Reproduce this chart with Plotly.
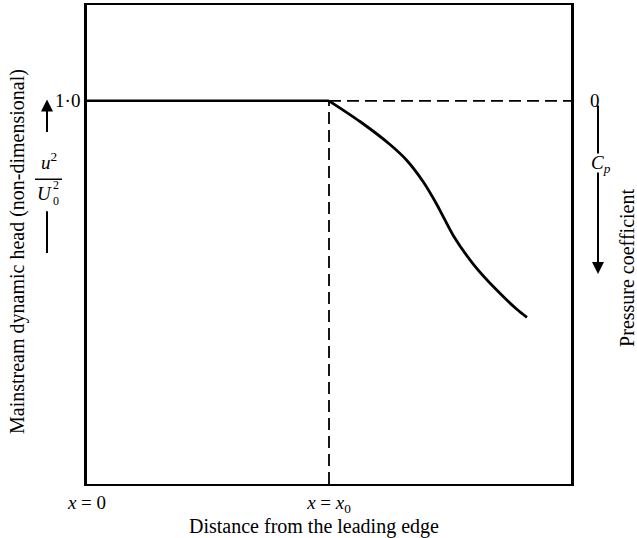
import plotly.graph_objects as go

# ---- data ----
x_curve = [1.0, 1.128, 1.252, 1.321, 1.39, 1.445, 1.466, 1.514, 1.596, 1.693, 1.776, 1.818]
y_curve = [1.0, 0.946, 0.886, 0.845, 0.788, 0.730, 0.705, 0.648, 0.574, 0.506, 0.456, 0.435]
x_flat = [0, 1]
y_flat = [1, 1]
x_dash_h = [1, 2]
y_dash_h = [1, 1]
x_dash_v = [1, 1]
y_dash_v = [0, 1]
x_tickvals = [0, 1]
x_ticktext = ["<i>x</i> = 0", "<i>x</i> = <i>x</i><sub>0</sub>"]
y_tickvals = [1.0]
y_ticktext = ["1·0"]
right_tick_text = "0"

FONT = "Liberation Serif, Times New Roman, serif"
W, H = 637, 538
L, R, T, B = 87, 571, 3, 484


def px(x):
    return (x - L) / (R - L)


def py(y):
    return (B - y) / (B - T)


fig = go.Figure()
fig.add_trace(go.Scatter(x=x_flat, y=y_flat, mode="lines",
                         line=dict(color="black", width=2.5), hoverinfo="skip"))
fig.add_trace(go.Scatter(x=x_dash_h, y=y_dash_h, mode="lines",
                         line=dict(color="black", width=1.8, dash="12px,6px"), hoverinfo="skip"))
fig.add_trace(go.Scatter(x=x_dash_v, y=y_dash_v, mode="lines",
                         line=dict(color="black", width=1.8, dash="12px,6px"), hoverinfo="skip"))
fig.add_trace(go.Scatter(x=x_curve, y=y_curve, mode="lines",
                         line=dict(color="black", width=2.8, shape="spline", smoothing=0.8),
                         hoverinfo="skip"))

fig.update_layout(
    width=W, height=H,
    margin=dict(l=L, r=W - R, t=T, b=H - B),
    paper_bgcolor="white", plot_bgcolor="white",
    showlegend=False,
    font=dict(family=FONT, color="black", size=19),
    xaxis=dict(range=[0, 2], showgrid=False, zeroline=False, showline=True, mirror=True,
               linecolor="black", linewidth=2, ticks="", tickvals=x_tickvals,
               ticktext=x_ticktext, tickfont=dict(size=19, family=FONT, color="black")),
    yaxis=dict(range=[0, 1.25], showgrid=False, zeroline=False, showline=True, mirror=True,
               linecolor="black", linewidth=2.5, ticks="", tickvals=y_tickvals,
               ticktext=y_ticktext, tickfont=dict(size=19, family=FONT, color="black")),
)

ann = []
# axis titles
ann.append(dict(text="Distance from the leading edge", x=px(314), y=py(527), xref="paper", yref="paper",
                showarrow=False, xanchor="center", yanchor="middle", font=dict(size=20)))
ann.append(dict(text="Mainstream dynamic head (non-dimensional)", x=px(18), y=py(251), xref="paper",
                yref="paper", showarrow=False, textangle=-90, xanchor="center", yanchor="middle",
                font=dict(size=20)))
ann.append(dict(text="Pressure coefficient", x=px(627), y=py(267), xref="paper", yref="paper",
                showarrow=False, textangle=-90, xanchor="center", yanchor="middle", font=dict(size=20)))
# right tick "0"
ann.append(dict(text=right_tick_text, x=px(595), y=y_tickvals[0], xref="paper", yref="y",
                showarrow=False, xanchor="center", yanchor="middle", font=dict(size=19)))
# fraction u^2 / U0^2
ann.append(dict(text="<i>u</i><sup>2</sup>", x=px(49), y=py(160), xref="paper", yref="paper",
                showarrow=False, xanchor="center", yanchor="middle", font=dict(size=19)))
ann.append(dict(text="<i>U</i>", x=px(44), y=py(192), xref="paper", yref="paper",
                showarrow=False, xanchor="center", yanchor="middle", font=dict(size=19)))
ann.append(dict(text="2", x=px(56), y=py(184), xref="paper", yref="paper",
                showarrow=False, xanchor="center", yanchor="middle", font=dict(size=12)))
ann.append(dict(text="0", x=px(56), y=py(200), xref="paper", yref="paper",
                showarrow=False, xanchor="center", yanchor="middle", font=dict(size=12)))
# Cp
ann.append(dict(text="<i>C</i><sub><i>p</i></sub>", x=px(601), y=py(163), xref="paper", yref="paper",
                showarrow=False, xanchor="center", yanchor="middle", font=dict(size=19)))
# arrows
ann.append(dict(text="", x=px(47), y=py(98), xref="paper", yref="paper", showarrow=True,
                ax=0, ay=34, arrowhead=2, arrowsize=1.2, arrowwidth=2, arrowcolor="black"))
ann.append(dict(text="", x=px(598), y=py(273), xref="paper", yref="paper", showarrow=True,
                ax=0, ay=-103, arrowhead=2, arrowsize=1.2, arrowwidth=2, arrowcolor="black"))
fig.update_layout(annotations=ann)

shapes = [
    dict(type="line", xref="paper", yref="paper", x0=px(35), x1=px(62), y0=py(178), y1=py(178),
         line=dict(color="black", width=1.5)),
    dict(type="line", xref="paper", yref="paper", x0=px(47), x1=px(47), y0=py(210), y1=py(252),
         line=dict(color="black", width=2)),
    dict(type="line", xref="paper", yref="paper", x0=px(598), x1=px(598), y0=py(104), y1=py(152),
         line=dict(color="black", width=2)),
]
fig.update_layout(shapes=shapes)

fig.write_html("out.html", config={"displayModeBar": False},
               post_script="document.body.style.margin='0';document.body.style.overflow='hidden';")
